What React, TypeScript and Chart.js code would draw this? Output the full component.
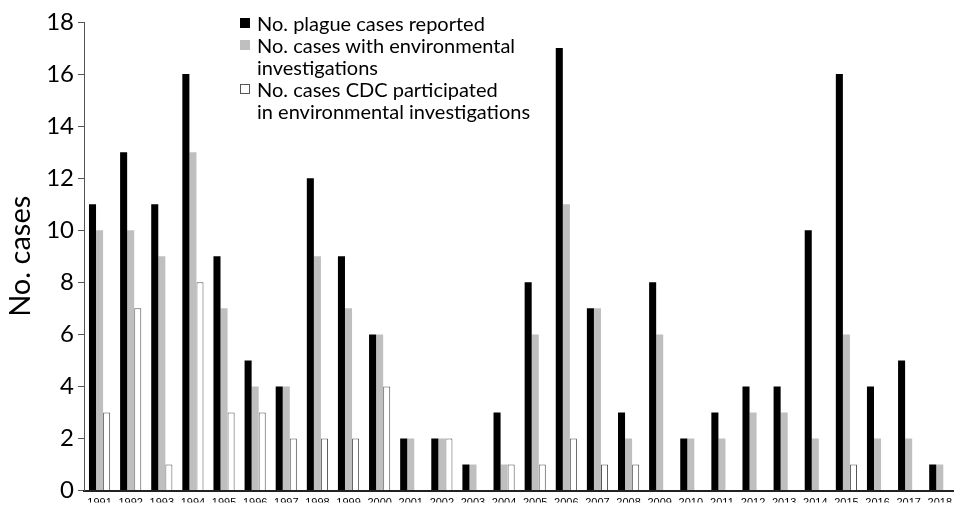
import React, { useEffect, useRef } from "react";
import { Chart, registerables } from "chart.js";

Chart.register(...registerables);

const years = [
  "1991", "1992", "1993", "1994", "1995", "1996", "1997", "1998", "1999", "2000",
  "2001", "2002", "2003", "2004", "2005", "2006", "2007", "2008", "2009", "2010",
  "2011", "2012", "2013", "2014", "2015", "2016", "2017", "2018",
];
const casesReported = [11, 13, 11, 16, 9, 5, 4, 12, 9, 6, 2, 2, 1, 3, 8, 17, 7, 3, 8, 2, 3, 4, 4, 10, 16, 4, 5, 1];
const casesEnvInvestigated = [10, 10, 9, 13, 7, 4, 4, 9, 7, 6, 2, 2, 1, 1, 6, 11, 7, 2, 6, 2, 2, 3, 3, 2, 6, 2, 2, 1];
const casesCdcParticipated = [3, 7, 1, 8, 3, 3, 2, 2, 2, 4, null, 2, null, 1, 1, 2, 1, 1, null, null, null, null, null, null, 1, null, null, null];
const yTicks = [0, 2, 4, 6, 8, 10, 12, 14, 16, 18];

const legendItems = [
  { label: ["No. plague cases reported"], fill: "#000000", border: "#000000" },
  { label: ["No. cases with environmental", "investigations"], fill: "#bfbfbf", border: "#bfbfbf" },
  { label: ["No. cases CDC participated", "in environmental investigations"], fill: "#ffffff", border: "#555555" },
];

export default function App() {
  const canvasRef = useRef<HTMLCanvasElement | null>(null);

  useEffect(() => {
    const canvas = canvasRef.current;
    if (!canvas) return;
    const chart = new Chart(canvas, {
      type: "bar",
      data: {
        labels: years,
        datasets: [
          {
            label: "No. plague cases reported",
            data: casesReported,
            backgroundColor: "#000000",
            borderWidth: 0,
          },
          {
            label: "No. cases with environmental investigations",
            data: casesEnvInvestigated,
            backgroundColor: "#bfbfbf",
            borderWidth: 0,
          },
          {
            label: "No. cases CDC participated in environmental investigations",
            data: casesCdcParticipated as any,
            backgroundColor: "#ffffff",
            borderColor: "#555555",
            borderWidth: 1,
            borderSkipped: "bottom",
          },
        ],
      },
      options: {
        responsive: false,
        animation: false,
        layout: { padding: { top: 22, right: 0, bottom: 0, left: 0 } },
        plugins: {
          legend: { display: false },
          tooltip: { enabled: false },
        },
        datasets: {
          bar: { categoryPercentage: 0.68, barPercentage: 1.0 },
        },
        scales: {
          x: {
            offset: true,
            afterFit: (scale: any) => {
              scale.height = 12;
            },
            grid: { display: false, drawTicks: false },
            border: { display: true, color: "#222222", width: 2 },
            ticks: {
              color: "#000000",
              font: { family: "'Liberation Sans', Arial, sans-serif", size: 11 },
              padding: 6,
              maxRotation: 0,
              autoSkip: false,
            },
          },
          y: {
            min: 0,
            max: 18,
            afterFit: (scale: any) => {
              scale.width = 84;
            },
            afterBuildTicks: (scale: any) => {
              scale.ticks = yTicks.map((v) => ({ value: v }));
            },
            grid: {
              display: true,
              drawOnChartArea: false,
              drawTicks: true,
              tickLength: 6,
              color: "#555555",
            },
            border: { display: true, color: "#555555", width: 1 },
            ticks: {
              color: "#000000",
              font: { family: "Lato, 'Open Sans', sans-serif", size: 24 },
              padding: 4,
            },
            title: {
              display: true,
              text: "No. cases",
              color: "#000000",
              font: { family: "Lato, 'Open Sans', sans-serif", size: 29 },
              padding: { top: 3, bottom: 0 },
            },
          },
        },
      },
    });
    return () => chart.destroy();
  }, []);

  return (
    <div
      style={{
        position: "fixed",
        left: 0,
        top: 0,
        width: 954,
        height: 506,
        overflow: "hidden",
        background: "#ffffff",
      }}
    >
      <canvas ref={canvasRef} width={958} height={509} style={{ display: "block" }} />
      <div
        style={{
          position: "absolute",
          left: 240,
          top: 12,
          fontFamily: "Lato, 'Open Sans', sans-serif",
          fontSize: 20,
          lineHeight: "22px",
          color: "#000000",
        }}
      >
        {legendItems.map((item, i) => (
          <div key={i} style={{ display: "flex", alignItems: "flex-start" }}>
            <div
              style={{
                width: 8,
                height: 8,
                marginTop: 6,
                marginRight: 7,
                background: item.fill,
                border: `1px solid ${item.border}`,
                flexShrink: 0,
              }}
            />
            <div>
              {item.label.map((line, j) => (
                <div key={j}>{line}</div>
              ))}
            </div>
          </div>
        ))}
      </div>
    </div>
  );
}
